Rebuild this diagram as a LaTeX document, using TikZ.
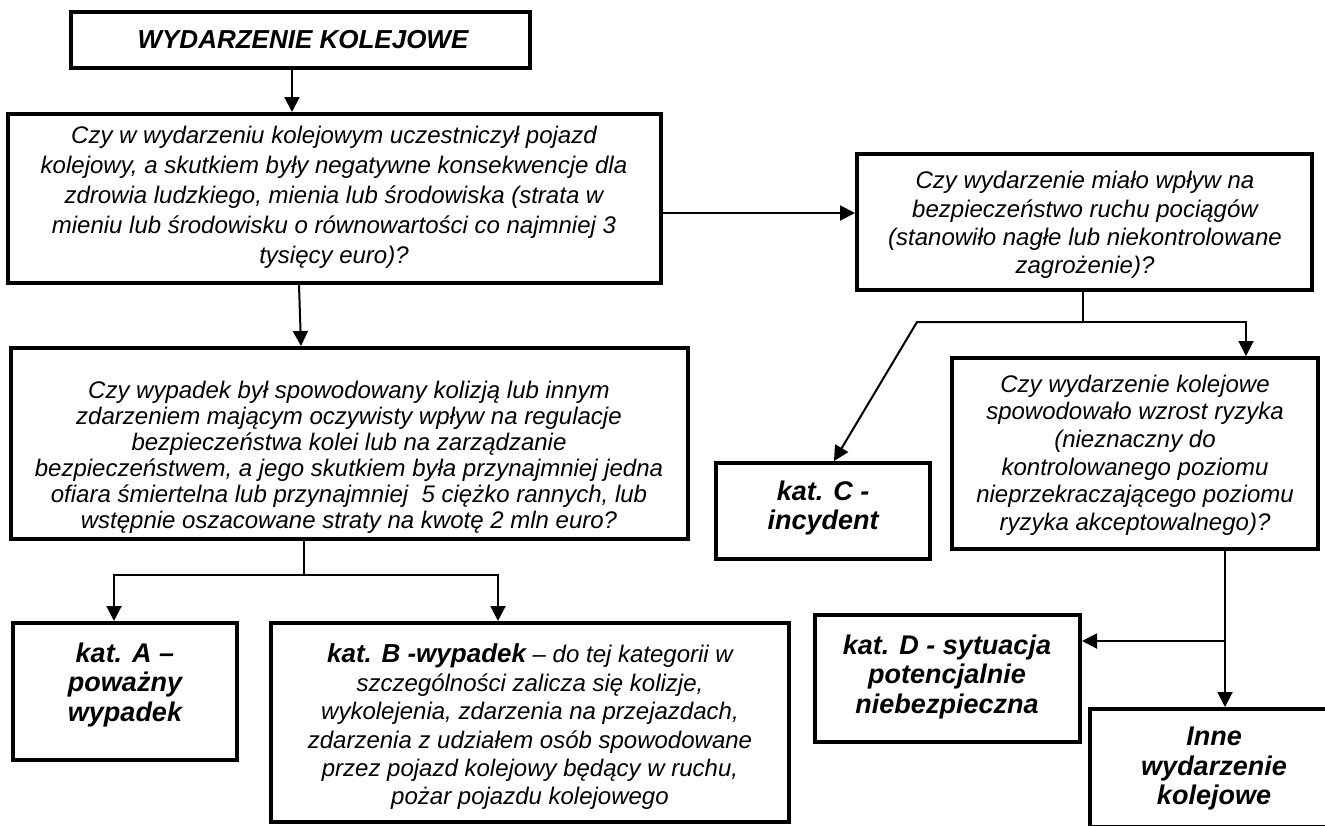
\documentclass[tikz,border=0pt]{standalone}
\usepackage{fontspec}
\setmainfont{Liberation Sans}
\usetikzlibrary{arrows.meta}
\begin{document}
\begin{tikzpicture}[x=1pt,y=-1pt,
  boxst/.style={draw, line width=4pt, inner sep=0pt},
  qtext/.style={align=center, inner sep=0pt, font=\fontsize{24}{#1}\selectfont\itshape},
  qtext/.default=28,
  ltext/.style={align=center, inner sep=0pt, font=\fontsize{27}{29.5}\selectfont\bfseries\itshape},
  conn/.style={line width=2pt},
  arr/.style={conn, -{Triangle[length=15pt,width=15pt]}}
]
\useasboundingbox (0,0) rectangle (1325,825);

% boxes
\node[boxst, minimum width=459pt, minimum height=56pt]  (top)  at (300.5,40) {};
\node[boxst, minimum width=653pt, minimum height=169pt] (q1)   at (334.5,198.5) {};
\node[boxst, minimum width=455pt, minimum height=136pt] (q2)   at (1084.5,222) {};
\node[boxst, minimum width=677pt, minimum height=191pt] (q3)   at (349.5,443.5) {};
\node[boxst, minimum width=224pt, minimum height=137pt] (ka)   at (125,691.5) {};
\node[boxst, minimum width=518pt, minimum height=199pt] (kb)   at (530,722.5) {};
\node[boxst, minimum width=214pt, minimum height=96pt]  (kc)   at (823,511) {};
\node[boxst, minimum width=366pt, minimum height=191pt] (q4)   at (1135,453.5) {};
\node[boxst, minimum width=265pt, minimum height=127pt] (kd)   at (947.5,678.5) {};
\node[boxst, minimum width=248pt, minimum height=118pt] (inne) at (1214,768) {};

% texts
\node[ltext, font=\fontsize{26}{29}\selectfont\bfseries\itshape] (topt) at (303,40) {WYDARZENIE KOLEJOWE};
\node[qtext=30] (q1t) at (334,197) {Czy w wydarzeniu kolejowym uczestniczył pojazd\\
kolejowy, a skutkiem były negatywne konsekwencje dla\\
zdrowia ludzkiego, mienia lub środowiska (strata w\\
mieniu lub środowisku o równowartości co najmniej 3\\
tysięcy euro)?};
\node[qtext=28.3] (q2t) at (1085,225) {Czy wydarzenie miało wpływ na\\
bezpieczeństwo ruchu pociągów\\
(stanowiło nagłe lub niekontrolowane\\
zagrożenie)?};
\node[qtext=26] (q3t) at (349,457) {Czy wypadek był spowodowany kolizją lub innym\\
zdarzeniem mającym oczywisty wpływ na regulacje\\
bezpieczeństwa kolei lub na zarządzanie\\
bezpieczeństwem, a jego skutkiem była przynajmniej jedna\\
ofiara śmiertelna lub przynajmniej\ \ 5 ciężko rannych, lub\\
wstępnie oszacowane straty na kwotę 2 mln euro?};
\node[qtext=27.6] (q4t) at (1135,455) {Czy wydarzenie kolejowe\\
spowodowało wzrost ryzyka\\
(nieznaczny do\\
kontrolowanego poziomu\\
nieprzekraczającego poziomu\\
ryzyka akceptowalnego)?};
\node[ltext] (kat) at (125,685) {kat. A –\\poważny\\wypadek};
\node[qtext=28.4] (kbt) at (530,727) {{\fontsize{26}{28.4}\selectfont\bfseries kat. B -wypadek} – do tej kategorii w\\
szczególności zalicza się kolizje,\\
wykolejenia, zdarzenia na przejazdach,\\
zdarzenia z udziałem osób spowodowane\\
przez pojazd kolejowy będący w ruchu,\\
pożar pojazdu kolejowego};
\node[ltext] (kct) at (823,508) {kat. C -\\incydent};
\node[ltext] (kdt) at (947,677) {kat. D - sytuacja\\potencjalnie\\niebezpieczna};
\node[ltext] (innet) at (1214,769) {Inne\\wydarzenie\\kolejowe};

% helper coordinates
\coordinate (x1) at (292,0);
\coordinate (y1) at (0,213);
\coordinate (xa) at (299,0);
\coordinate (xb) at (301,0);
\coordinate (s1) at (304,575);
\coordinate (sA) at (114,575);
\coordinate (sB) at (498,575);
\coordinate (s2) at (1083,322);
\coordinate (s2l) at (917,322);
\coordinate (s2r) at (1246,322);
\coordinate (xc) at (834,0);
\coordinate (x4) at (1225,0);
\coordinate (s4) at (1225,641);

% connectors
\draw[arr] (top.south -| x1) -- (q1.north -| x1);
\draw[arr] (q1.east |- y1) -- (q2.west |- y1);
\draw[arr] (q1.south -| xa) -- (q3.north -| xb);
\draw[conn] (q3.south -| s1) -- (s1);
\draw[arr] (s1) -| (ka.north -| sA);
\draw[arr] (s1) -| (kb.north -| sB);
\draw[conn] (q2.south -| s2) -- (s2);
\draw[arr] (s2) -| (q4.north -| s2r);
\draw[arr] (s2) -- (s2l) -- (kc.north -| xc);
\draw[arr] (q4.south -| x4) -- (inne.north -| x4);
\draw[arr] (s4) -- (kd.east |- s4);
\end{tikzpicture}
\end{document}
